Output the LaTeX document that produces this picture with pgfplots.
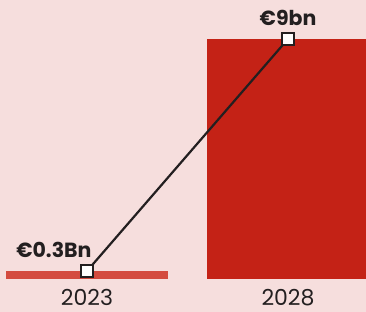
\documentclass[border=0pt]{standalone}
\usepackage{pgfplots}
\pgfplotsset{compat=1.18}
\usepackage{fontspec}
\setmainfont{Poppins}
\definecolor{bgpink}{HTML}{F6DEDD}
\definecolor{barlight}{HTML}{D44B3F}
\definecolor{bardark}{HTML}{C42216}
\definecolor{ink}{HTML}{231F20}
\begin{document}
\begin{tikzpicture}
\useasboundingbox (0,-33pt) rectangle (366pt,279pt);
\fill[bgpink] (0,-33pt) rectangle (366pt,279pt);
\begin{axis}[
  at={(0,0)}, anchor=south west,
  scale only axis, width=366pt, height=279pt,
  xmin=-0.433, xmax=1.388, ymin=0, ymax=10.46,
  axis line style={draw=none},
  ytick=\empty,
  xtick={0,1}, xticklabels={2023,2028},
  major tick length=0pt,
  xticklabel style={font=\fontsize{22}{24}\selectfont, text=ink, anchor=base, yshift=-27pt, inner sep=0pt},
  /pgf/number format/assume math mode=true,
  bar width=0.806, ybar=0pt,
  clip=true,
]
\addplot[ybar, fill=barlight, draw=none, bar shift=0pt] coordinates {(0,0.3)};
\addplot[ybar, fill=bardark, draw=none, bar shift=0pt] coordinates {(1,9)};
\addplot[sharp plot, ink, line width=2.2pt, mark=square*, mark size=6pt,
  mark options={fill=white, draw=ink, line width=2.2pt}] coordinates {(0,0.3) (1,9)};
\node[anchor=base east, font=\bfseries\fontsize{20.5}{23}\selectfont, text=ink, xshift=8pt, yshift=13pt] at (axis cs:0,0.3) {€0.3Bn};
\node[anchor=base, font=\bfseries\fontsize{20.5}{23}\selectfont, text=ink, yshift=13pt] at (axis cs:1,9) {€9bn};
\end{axis}
\end{tikzpicture}
\end{document}
